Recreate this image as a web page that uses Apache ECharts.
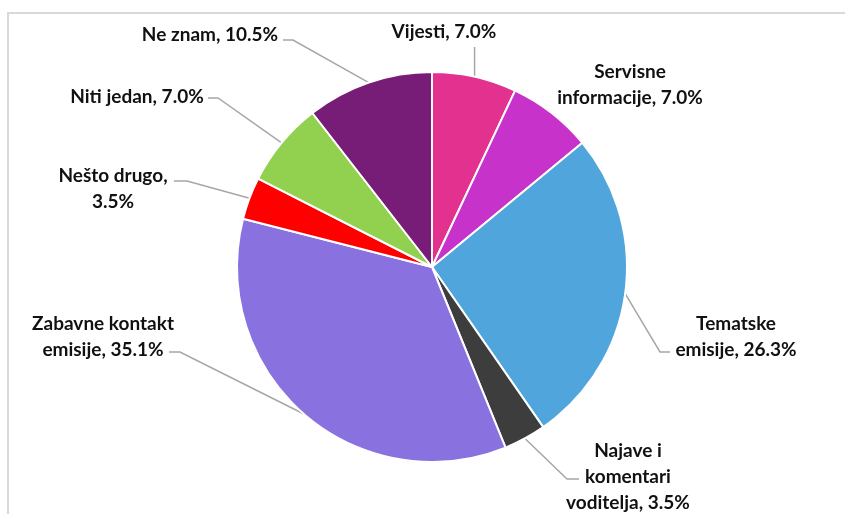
<!DOCTYPE html>
<html>
<head>
<meta charset="utf-8">
<script src="https://cdn.jsdelivr.net/npm/echarts@6/dist/echarts.min.js"></script>
<style>
  html, body { margin: 0; padding: 0; background: #fff; }
  #chart { width: 845px; height: 514px; }
</style>
</head>
<body>
<div id="chart"></div>
<script>
// share of answers, clockwise from 12 o'clock
const categories = ['Vijesti', 'Servisne\ninformacije', 'Tematske\nemisije', 'Najave i\nkomentari\nvoditelja',
  'Zabavne kontakt\nemisije', 'Nešto drugo', 'Niti jedan', 'Ne znam']
const percents = [7.0, 7.0, 26.3, 3.5, 35.1, 3.5, 7.0, 10.5]
const valueOnNewLine = [5]

const colors = ['#e2318f', '#c632ca', '#50a6dc', '#3d3d3d', '#8972e0', '#ff0000', '#92d050', '#771c77']

const cx = 432, cy = 267, R = 195

// where the data labels sit (centre of text block) and the elbows of their leader lines
const labelSpots = [
  {x: 444, y: 32, line: e => [e, [e[0], 47]]},
  {x: 630, y: 85, line: null},
  {x: 736, y: 337, line: e => [e, [660, 352], [670, 352]]},
  {x: 628, y: 477, line: e => [e, [567, 479], [579, 479]]},
  {x: 103, y: 337, line: e => [e, [180, 352], [169, 352]]},
  {x: 113, y: 189, line: e => [e, [187, 181], [174, 181]]},
  {x: 137, y: 97, line: e => [e, [218, 98], [208, 98]]},
  {x: 210, y: 35, line: e => [e, [293, 40], [283, 40]]}
]

const total = percents.reduce((a, b) => a + b, 0)
function edgePoint (i) {
  let before = 0
  for (let k = 0; k < i; k++) before += percents[k]
  const a = (before + percents[i] / 2) / total * Math.PI * 2
  return [cx + R * Math.sin(a), cy - R * Math.cos(a)]
}

const chart = echarts.init(document.getElementById('chart'))

chart.setOption({
  animation: false,
  graphic: [{
    type: 'rect',
    shape: {x: 8, y: 13, width: 860, height: 540},
    style: {fill: 'none', stroke: '#d9d9d9', lineWidth: 2},
    silent: true
  }],
  series: [{
    type: 'pie',
    center: [cx, cy],
    radius: R,
    startAngle: 90,
    clockwise: true,
    avoidLabelOverlap: false,
    emphasis: {disabled: true},
    data: categories.map((name, i) => ({
      name: name,
      value: percents[i],
      itemStyle: {color: colors[i]},
      labelLine: {show: labelSpots[i].line != null}
    })),
    itemStyle: {borderColor: '#fff', borderWidth: 2},
    label: {
      show: true,
      position: 'outside',
      formatter: p => p.name + ',' + (valueOnNewLine.includes(p.dataIndex) ? '\n' : ' ') + p.value.toFixed(1) + '%',
      fontFamily: 'Lato',
      fontWeight: 'bold',
      fontSize: 19,
      lineHeight: 26,
      color: '#111',
      align: 'center'
    },
    labelLine: {
      show: true,
      smooth: false,
      lineStyle: {color: '#a6a6a6', width: 1.5}
    },
    labelLayout: params => {
      const s = labelSpots[params.dataIndex]
      const out = {x: s.x, y: s.y, align: 'center', verticalAlign: 'middle'}
      if (s.line) out.labelLinePoints = s.line(edgePoint(params.dataIndex))
      return out
    }
  }]
})
</script>
</body>
</html>
